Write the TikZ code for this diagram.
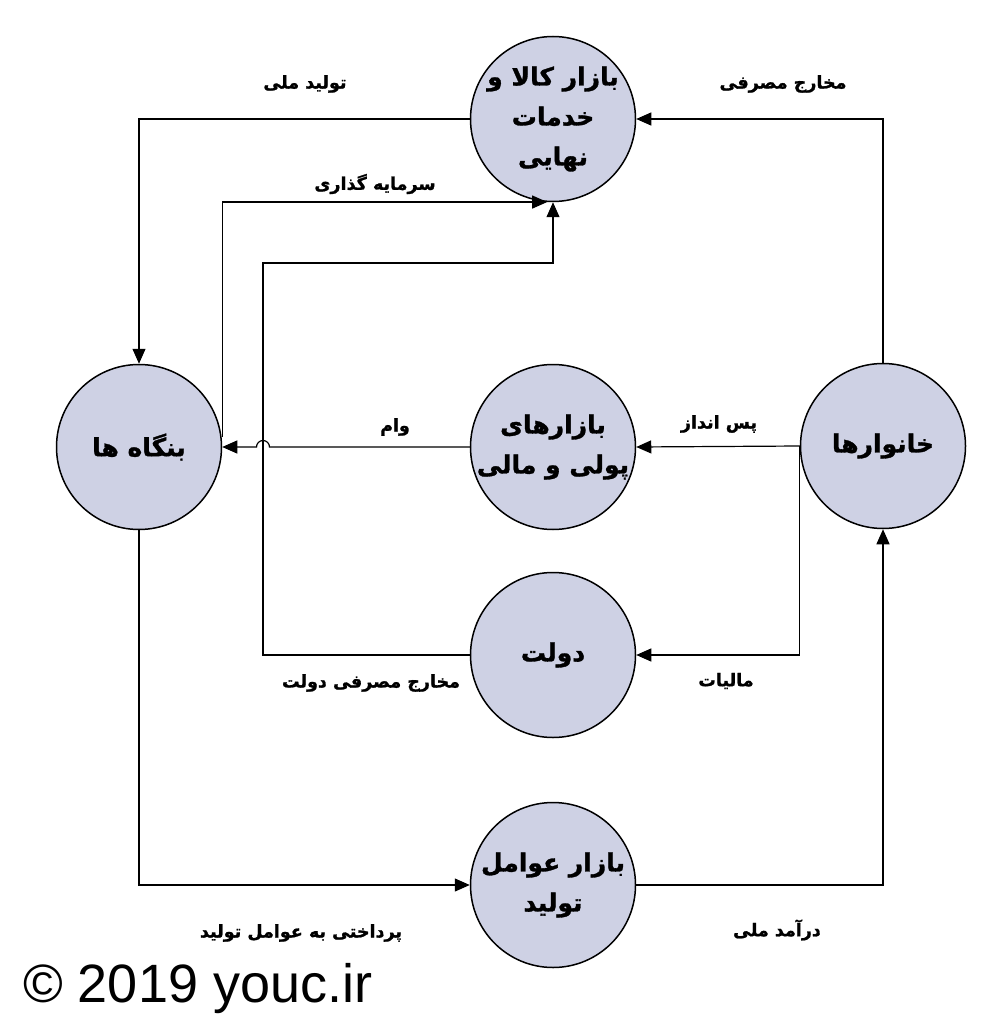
\documentclass[tikz,border=0pt]{standalone}
\usepackage{fontspec}
\usepackage{tikz}
\usetikzlibrary{arrows.meta}
\TeXXeTstate=1
\newfontfamily\arabicfont[Script=Arabic, BoldFeatures={FakeBold=1.2}]{DejaVu Sans}
\setsansfont{Liberation Sans}
\newcommand{\fatext}[1]{\beginR#1\endR}
\definecolor{circfill}{RGB}{206,209,228}

\begin{document}
\begin{tikzpicture}[x=1pt,y=-1pt,
  market/.style={circle, draw=black, line width=1.5pt, fill=circfill, minimum size=165pt, inner sep=0pt},
  mtext/.style={align=center, inner sep=0pt, font=\arabicfont\bfseries\fontsize{25}{40}\selectfont},
  lbl/.style={font=\arabicfont\bfseries\fontsize{17.5}{20}\selectfont, inner sep=0pt},
  flow/.style={line width=1.2pt, -{Triangle[length=15pt,width=13pt]}}]
\useasboundingbox[fill=white] (0,0) rectangle (996,1024);

% circles
\node[market] (goods) at (553,119) {};
\node[market] (firms) at (139,447) {};
\node[market] (money) at (553,447) {};
\node[market] (house) at (883,446) {};
\node[market] (gov) at (553,655) {};
\node[market] (factor) at (553,885) {};

% circle texts
\node[mtext] (tgoods) at (goods) {\fatext{بازار کالا و}\\ \fatext{خدمات}\\ \fatext{نهایی}};
\node[mtext] (tfirms) at (firms) {\fatext{بنگاه ها}};
\node[mtext] (tmoney) at (money) {\fatext{بازارهای}\\ \fatext{پولی و مالی}};
\node[mtext] (thouse) at (house) {\fatext{خانوارها}};
\node[mtext] (tgov) at (gov) {\fatext{دولت}};
\node[mtext] (tfactor) at (factor) {\fatext{بازار عوامل}\\ \fatext{تولید}};

% labels
\node[lbl] (l1) at (305,84) {\fatext{تولید ملی}};
\node[lbl] (l2) at (375,184) {\fatext{سرمایه گذاری}};
\node[lbl] (l3) at (783,84) {\fatext{مخارج مصرفی}};
\node[lbl] (l4) at (395,427) {\fatext{وام}};
\node[lbl] (l5) at (719,424) {\fatext{پس انداز}};
\node[lbl] (l6) at (371,683) {\fatext{مخارج مصرفی دولت}};
\node[lbl] (l7) at (726,681) {\fatext{مالیات}};
\node[lbl] (l8) at (301,933) {\fatext{پرداختی به عوامل تولید}};
\node[lbl] (l9) at (777,930) {\fatext{درآمد ملی}};

\node[anchor=base west, inner sep=0pt, font=\sffamily\fontsize{54}{54}\selectfont] (copy) at (23,1002) {\textcopyright{} 2019 youc.ir};

% flows
\coordinate (gturn) at (263,263);
\draw[flow] (goods.west) -| (firms.north);
\draw[flow] (house.north) |- (goods.east);
\draw[flow] ([yshift=10pt]firms.east) |- (goods.266);
\draw[flow] (gov.west) -| (gturn) -| (goods.south);
\draw[flow] (money.west) -- (269.5,447) arc[start angle=0, end angle=-180, radius=6.5] -- (firms.east);
\draw[flow] (house.west) -- (money.east);
\draw[flow] (house.west) |- (gov.east);
\draw[flow] (firms.south) |- (factor.west);
\draw[flow] (factor.east) -| (house.south);
\end{tikzpicture}
\end{document}
